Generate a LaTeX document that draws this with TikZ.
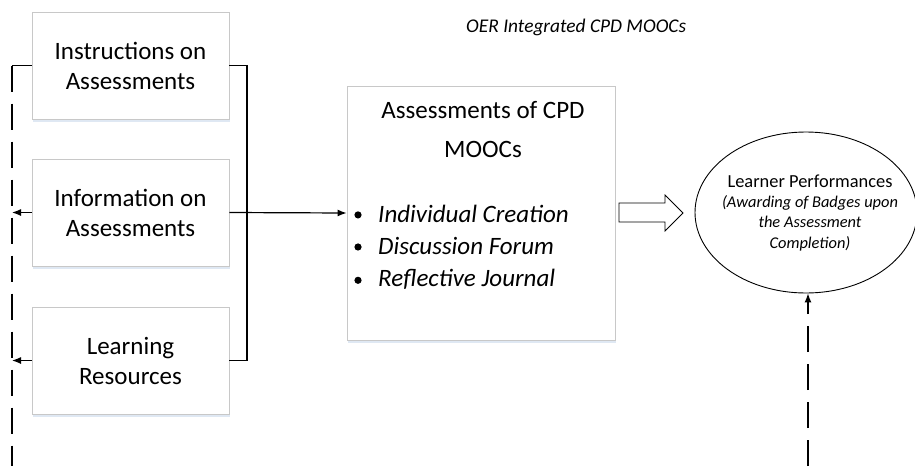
\documentclass[tikz,border=0pt]{standalone}
\usepackage{fontspec}
\setmainfont{Carlito}
\usetikzlibrary{arrows.meta,shapes.geometric,shapes.arrows,shadows}
\definecolor{boxline}{HTML}{C8C8C8}
\definecolor{shade}{HTML}{DCE6F2}
\begin{document}
\begin{tikzpicture}[x=1pt,y=-1pt,
  sidebox/.style={draw=boxline,line width=0.9pt,fill=white,rectangle,minimum width=197pt,minimum height=107pt,inner sep=0pt,
    align=center,font=\fontsize{25}{30}\selectfont,
    drop shadow={shadow xshift=1pt,shadow yshift=-2.5pt,fill=shade,opacity=0.9}},
  conn/.style={line width=1.2pt,black},
  dashconn/.style={line width=1.2pt,black,dash pattern=on 26pt off 12pt},
  tip/.style={-{Latex[length=9pt,width=7pt]}},
  itemtext/.style={font=\fontsize{25}{32}\selectfont\itshape,anchor=base west,inner sep=0pt}
]
\useasboundingbox (0,0) rectangle (915,466);
% side boxes
\node[sidebox] (b1) at (130.5,65.5) {Instructions on\\Assessments};
\node[sidebox] (b2) at (130.5,212.5) {Information on\\Assessments};
\node[sidebox] (b3) at (130.5,360.5) {Learning\\Resources};
% main box
\node[sidebox,minimum width=268pt,minimum height=254pt] (main) at (481,213) {};
\node[font=\fontsize{25}{39}\selectfont,align=center,anchor=base,inner sep=0pt] (mt) at (483,157) {Assessments of CPD\\MOOCs};
\node[itemtext] (i1) at (378,222) {Individual Creation};
\node[itemtext] (i2) at (378,254) {Discussion Forum};
\node[itemtext] (i3) at (378,286) {Reflective Journal};
\foreach \n in {i1,i2,i3}{\fill (\n.west) ++(-20,1.5) circle (3.6pt);}
% title
\node[font=\fontsize{19.4}{24}\selectfont\itshape,anchor=base west,inner sep=0pt] (title) at (466,32) {OER Integrated CPD MOOCs};
% ellipse
\node[draw,ellipse,line width=0.9pt,minimum width=222pt,minimum height=161pt,inner sep=0pt] (el) at (806,212.5) {};
\node[align=center,anchor=base,inner sep=0pt,font=\fontsize{16.4}{20.3}\selectfont\itshape] (et) at (810,248) {{\fontsize{18.4}{20.3}\selectfont\upshape Learner Performances}\\(Awarding of Badges upon\\the Assessment\\Completion)};
% block arrow
\draw[line width=0.8pt,fill=white] (619,203) -- (665,203) -- (665,195) -- (683,213) -- (665,231) -- (665,222) -- (619,222) -- cycle;
% connectors
\coordinate (lt) at (12,65.5);
\coordinate (lb) at (12,466);
\coordinate (rb) at (247,65.5);
\draw[conn] (b1.west) -- (lt);
\draw[dashconn] (lt) -- (lb);
\draw[conn,tip] (b2.west) -- (12,212.5);
\draw[conn,tip] (b3.west) -- (12,360.5);
\draw[conn] (b1.east) -- (rb) |- (b3.east);
\draw[conn,tip] (b2.east) -- (main.west);
\coordinate (eb) at (808,466);
\draw[dashconn,tip] (eb) -- (el.south -| eb);
\end{tikzpicture}
\end{document}
